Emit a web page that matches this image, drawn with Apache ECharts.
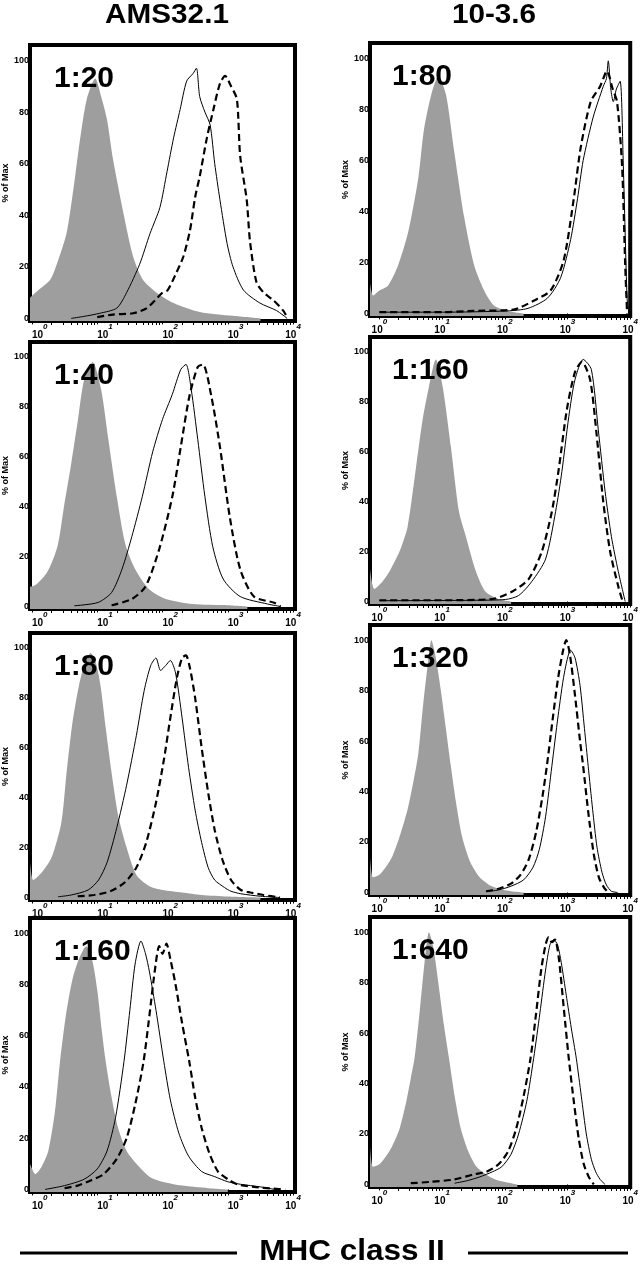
<!DOCTYPE html>
<html><head><meta charset="utf-8">
<script src="https://cdn.jsdelivr.net/npm/echarts@6/dist/echarts.min.js"></script>
<style>html,body{margin:0;padding:0;background:#fff}#c{width:641px;height:1279px}</style>
</head><body><div id="c"></div>
<script>
// ---------- DATA (x = log10 fluorescence, y = % of Max) ----------
const COLUMN_TITLES = ['AMS32.1', '10-3.6'];
const DILUTIONS_LEFT = ['1:20', '1:40', '1:80', '1:160'];
const DILUTIONS_RIGHT = ['1:80', '1:160', '1:320', '1:640'];
const X_TICKS = [0, 1, 2, 3, 4];
const Y_TICKS = [0, 20, 40, 60, 80, 100];
const X_LABEL_BASE = '10';
const X_AXIS_TITLE = 'MHC class II';
const Y_AXIS_TITLE = '% of Max';

// Left column (AMS32.1)
const L1_ctrl = [[-0.03,8],[0.1,11],[0.28,15],[0.38,21],[0.53,33],[0.64,51],[0.74,70],[0.84,85],[0.97,93],[1.06,86],[1.15,77],[1.24,62],[1.4,41],[1.55,24],[1.7,15],[1.91,10],[2.17,6],[2.57,2.5],[3.08,1],[3.5,0]];
const L1_solid = [[0.6,0],[0.8,0.8],[1.04,2],[1.3,4],[1.45,10],[1.65,21],[1.81,33],[1.96,43],[2.07,57],[2.17,70],[2.27,81],[2.37,92],[2.47,95],[2.52,97],[2.57,86],[2.65,80],[2.73,75],[2.8,60],[2.88,46],[2.99,29],[3.08,20],[3.24,11],[3.49,6],[3.75,3],[3.91,0]];
const L1_dash = [[1.0,0.5],[1.24,1.5],[1.55,2],[1.76,4],[2.0,10],[2.08,11],[2.2,17],[2.32,24],[2.42,34],[2.5,47],[2.57,55],[2.68,70],[2.78,81],[2.88,91],[2.96,94],[3.05,90],[3.14,85],[3.19,63],[3.29,46],[3.34,30],[3.44,14],[3.55,10],[3.7,7],[3.85,3],[3.92,0]];

const L2_ctrl = [[-0.03,8],[0.0,8],[0.23,13.6],[0.39,24],[0.49,40],[0.6,57],[0.7,74],[0.8,91],[0.93,98],[1.06,87],[1.17,67],[1.3,44],[1.43,25],[1.58,15],[1.79,7],[2.05,3],[2.46,1],[3.0,0.5],[3.3,0]];
const L2_solid = [[0.65,0.3],[1.01,1.6],[1.22,5.6],[1.38,15],[1.53,28],[1.69,44],[1.85,62],[2.0,75],[2.15,85],[2.28,95],[2.36,97],[2.44,87],[2.54,67],[2.65,44],[2.77,24],[2.93,11],[3.19,4],[3.61,1],[3.81,0]];
const L2_dash = [[1.22,0.5],[1.53,3],[1.74,8],[1.95,23],[2.15,44],[2.28,64],[2.41,84],[2.54,96],[2.62,97],[2.75,84],[2.88,64],[3.03,36],[3.19,15],[3.4,4],[3.71,1.5],[3.81,0]];

const L3_ctrl = [[-0.03,14],[0.02,7],[0.15,10],[0.3,16],[0.45,30],[0.53,50],[0.62,70],[0.72,85],[0.8,93],[0.9,98],[0.98,94],[1.05,85],[1.13,68],[1.22,50],[1.32,33],[1.45,20],[1.6,9],[1.8,4.5],[2.0,3],[2.3,2],[2.6,1],[3.0,0.4],[3.5,0]];
const L3_solid = [[0.4,0.3],[0.6,1],[0.86,3],[1.02,7],[1.15,14],[1.3,28],[1.45,45],[1.6,65],[1.72,83],[1.82,93],[1.9,96],[1.97,91],[2.05,93],[2.12,95],[2.2,90],[2.3,72],[2.4,52],[2.5,35],[2.6,22],[2.7,12],[2.8,7],[2.95,4],[3.05,2.5],[3.2,1.5],[3.5,0.5],[3.8,0]];
const L3_dash = [[0.7,0.5],[0.95,1],[1.2,2.5],[1.42,6],[1.6,12],[1.75,22],[1.9,38],[2.02,55],[2.12,72],[2.22,88],[2.3,96],[2.36,97],[2.42,92],[2.5,80],[2.6,60],[2.7,42],[2.8,27],[2.92,15],[3.05,7],[3.2,3],[3.35,2],[3.55,1],[3.8,0]];

const L4_ctrl = [[-0.03,10],[0.05,6],[0.15,9],[0.25,15],[0.35,30],[0.43,50],[0.52,68],[0.62,82],[0.72,90],[0.83,95],[0.92,90],[1.0,78],[1.07,62],[1.13,50],[1.22,36],[1.32,24],[1.45,15],[1.6,10],[1.8,5],[2.0,3],[2.3,1.5],[2.7,0.5],[3.0,0]];
const L4_solid = [[0.2,0],[0.5,1.5],[0.8,4],[1.0,8],[1.15,15],[1.28,28],[1.41,50],[1.5,70],[1.58,88],[1.67,97],[1.74,92],[1.8,85],[1.9,70],[2.02,50],[2.12,35],[2.25,22],[2.4,13],[2.6,7],[2.8,5],[3.0,3],[3.2,2],[3.5,1],[3.72,0]];
const L4_dash = [[0.5,0.5],[0.7,1.5],[0.9,3.5],[1.1,6],[1.3,12],[1.45,20],[1.58,33],[1.71,50],[1.8,68],[1.88,85],[1.95,95],[2.0,92],[2.06,96],[2.12,90],[2.2,80],[2.3,65],[2.41,50],[2.5,36],[2.6,24],[2.72,14],[2.85,7],[3.0,4],[3.15,2],[3.4,1],[3.7,0.3],[3.88,0]];

// Right column (10-3.6)
const R1_ctrl = [[-0.15,12],[-0.1,7],[0.0,9],[0.14,11],[0.3,19],[0.46,32],[0.62,53],[0.71,72],[0.83,86],[0.94,93],[1.06,86],[1.19,64],[1.35,38],[1.51,19],[1.67,9],[1.83,3],[2.04,1],[2.3,0]];
const R1_solid = [[0.0,0.5],[1.0,0.5],[2.04,1],[2.37,2],[2.68,6],[2.89,14],[3.05,29],[3.16,45],[3.25,60],[3.41,77],[3.57,89],[3.62,92],[3.65,99],[3.69,88],[3.73,83],[3.78,88],[3.84,91],[3.89,58],[3.95,6],[3.98,0]];
const R1_dash = [[0.0,0.5],[1.0,0.5],[1.5,1],[2.14,1.5],[2.46,5],[2.73,9],[2.94,21],[3.1,45],[3.21,65],[3.37,83],[3.52,89],[3.63,95],[3.72,88],[3.79,83],[3.87,58],[3.92,19],[3.95,0]];

const R2_ctrl = [[-0.15,13],[-0.08,5],[0.05,8],[0.16,12],[0.32,20],[0.45,30],[0.58,53],[0.69,73],[0.79,86],[0.9,97],[1.01,86],[1.14,62],[1.27,36],[1.38,26],[1.54,12],[1.69,4],[1.9,1],[2.1,0]];
const R2_solid = [[0.0,0.3],[1.5,0.5],[2.01,0.8],[2.22,2.4],[2.43,8],[2.65,17],[2.81,36],[2.91,52],[3.02,74],[3.12,89],[3.25,97],[3.38,93],[3.49,69],[3.6,44],[3.7,26],[3.81,12],[3.92,0]];
const R2_dash = [[0.0,0.5],[1.0,0.5],[1.8,1],[2.12,4],[2.38,9],[2.59,20],[2.75,36],[2.86,53],[2.99,77],[3.12,92],[3.23,96],[3.36,89],[3.46,68],[3.57,40],[3.68,20],[3.81,6],[3.88,0]];

const R3_ctrl = [[-0.15,14],[-0.1,6],[0.0,7],[0.1,10],[0.2,14],[0.32,22],[0.45,33],[0.55,45],[0.62,55],[0.7,75],[0.77,90],[0.83,100],[0.9,93],[0.98,80],[1.06,65],[1.14,50],[1.22,36],[1.32,22],[1.45,12],[1.6,6],[1.75,3],[1.9,1.5],[2.1,0.5],[2.3,0]];
const R3_solid = [[1.7,0.3],[1.9,1],[2.1,2.5],[2.3,5],[2.45,10],[2.55,17],[2.65,30],[2.75,50],[2.85,70],[2.95,87],[3.05,96],[3.12,93],[3.2,82],[3.27,65],[3.33,50],[3.4,33],[3.47,18],[3.55,8],[3.62,3],[3.7,0.5],[3.8,0]];
const R3_dash = [[1.7,0.5],[1.9,1.5],[2.1,3.5],[2.25,7],[2.38,13],[2.5,24],[2.6,38],[2.67,50],[2.76,68],[2.85,85],[2.93,96],[2.98,100],[3.04,94],[3.12,78],[3.2,60],[3.25,50],[3.33,32],[3.42,15],[3.5,6],[3.58,2],[3.65,0]];

const R4_ctrl = [[-0.15,15],[-0.1,7],[0.0,8],[0.1,11],[0.2,15],[0.32,22],[0.43,33],[0.5,42],[0.56,50],[0.64,68],[0.72,88],[0.79,100],[0.86,94],[0.95,78],[1.03,63],[1.11,50],[1.2,35],[1.3,22],[1.42,13],[1.55,7],[1.7,4],[1.85,2],[2.0,1],[2.2,0]];
const R4_solid = [[1.2,0.5],[1.4,1.5],[1.6,3],[1.8,5],[1.95,7],[2.1,12],[2.22,20],[2.35,33],[2.46,50],[2.56,68],[2.65,85],[2.72,95],[2.78,97],[2.84,95],[2.9,88],[2.98,75],[3.06,62],[3.14,50],[3.22,35],[3.3,20],[3.38,10],[3.45,5],[3.52,2],[3.6,0]];
const R4_dash = [[0.5,0.5],[0.8,1],[1.2,2],[1.5,4],[1.7,5],[1.9,8],[2.05,13],[2.18,22],[2.3,35],[2.41,50],[2.5,68],[2.58,85],[2.65,95],[2.7,98],[2.75,96],[2.8,97],[2.86,90],[2.94,70],[3.02,50],[3.1,33],[3.18,18],[3.26,8],[3.34,3],[3.42,0]];

// ---------- LAYOUT ----------
const FONT = '"Liberation Sans", Arial, sans-serif';
const LEFT_COL = {left: 30, width: 265, xmin: -0.03, xmax: 4.03, tops: [45, 342, 633, 918], heights: [276, 267, 267, 274], labelX: 54, align: 'left'};
const RIGHT_COL = {left: 370, width: 262, xmin: -0.15, xmax: 4.0, tops: [43, 337, 625, 917], heights: [273, 267, 270, 270], labelX: 392, align: 'center'};

const panels = [
  {col: LEFT_COL, row: 0, label: DILUTIONS_LEFT[0], ctrl: L1_ctrl, solid: L1_solid, dash: L1_dash},
  {col: LEFT_COL, row: 1, label: DILUTIONS_LEFT[1], ctrl: L2_ctrl, solid: L2_solid, dash: L2_dash},
  {col: LEFT_COL, row: 2, label: DILUTIONS_LEFT[2], ctrl: L3_ctrl, solid: L3_solid, dash: L3_dash},
  {col: LEFT_COL, row: 3, label: DILUTIONS_LEFT[3], ctrl: L4_ctrl, solid: L4_solid, dash: L4_dash},
  {col: RIGHT_COL, row: 0, label: DILUTIONS_RIGHT[0], ctrl: R1_ctrl, solid: R1_solid, dash: R1_dash},
  {col: RIGHT_COL, row: 1, label: DILUTIONS_RIGHT[1], ctrl: R2_ctrl, solid: R2_solid, dash: R2_dash},
  {col: RIGHT_COL, row: 2, label: DILUTIONS_RIGHT[2], ctrl: R3_ctrl, solid: R3_solid, dash: R3_dash},
  {col: RIGHT_COL, row: 3, label: DILUTIONS_RIGHT[3], ctrl: R4_ctrl, solid: R4_solid, dash: R4_dash}
];

// log minor tick positions (2..9 within each decade)
const X_MINOR = [];
for (let d = 0; d < 4; d++) for (let m = 2; m <= 9; m++) X_MINOR.push(d + Math.log10(m));

const grid = [], xAxis = [], yAxis = [], series = [], graphic = [];
panels.forEach((p, i) => {
  const c = p.col;
  const top = c.tops[p.row], h = c.heights[p.row];
  grid.push({left: c.left, top: top, width: c.width, height: h, show: true, borderColor: '#000', borderWidth: 4, backgroundColor: 'transparent'});
  xAxis.push({
    gridIndex: i, type: 'value', min: c.xmin, max: c.xmax, position: 'bottom',
    axisLine: {show: false}, splitLine: {show: false},
    axisTick: {show: true, customValues: X_TICKS, length: 6, lineStyle: {color: '#000', width: 1}},
    axisLabel: {
      customValues: X_TICKS, margin: 2, align: c.align, alignMaxLabel: 'center',
      formatter: v => '{b|' + X_LABEL_BASE + '}{s|' + Math.round(v) + '}',
      rich: {
        b: {fontSize: 10, fontWeight: 'bold', fontFamily: FONT, color: '#000', padding: [7, 0, 0, 0]},
        s: {fontSize: 8, fontWeight: 'bold', fontStyle: 'italic', fontFamily: FONT, color: '#000', verticalAlign: 'top'}
      }
    }
  });
  xAxis.push({
    gridIndex: i, type: 'value', min: c.xmin, max: c.xmax, position: 'bottom', offset: 0,
    axisLine: {show: false}, splitLine: {show: false}, axisLabel: {show: false},
    axisTick: {show: true, customValues: X_MINOR, length: 4, lineStyle: {color: '#000', width: 1}}
  });
  yAxis.push({
    gridIndex: i, type: 'value', min: -1, max: 106,
    axisLine: {show: false}, splitLine: {show: false}, axisTick: {show: false},
    axisLabel: {customValues: Y_TICKS, margin: 1, fontSize: 9, fontWeight: 'bold', fontFamily: FONT, color: '#000'},
    name: Y_AXIS_TITLE, nameLocation: 'middle', nameGap: 18, nameRotate: 90,
    nameTextStyle: {fontSize: 9, fontWeight: 'bold', fontFamily: FONT, color: '#000'}
  });
  series.push({type: 'line', xAxisIndex: 2 * i, yAxisIndex: i, data: p.ctrl, symbol: 'none', smooth: 0.25,
    lineStyle: {width: 0}, areaStyle: {color: '#9e9e9e', opacity: 1, origin: 'start'}, z: 1, silent: true});
  series.push({type: 'line', xAxisIndex: 2 * i, yAxisIndex: i, data: p.solid, symbol: 'none', smooth: 0.25,
    lineStyle: {color: '#000', width: 1}, z: 3, silent: true});
  series.push({type: 'line', xAxisIndex: 2 * i, yAxisIndex: i, data: p.dash, symbol: 'none', smooth: 0.25,
    lineStyle: {color: '#000', width: 2.2, type: [7, 4]}, z: 4, silent: true});
  graphic.push({type: 'text', x: c.labelX, y: top + 34, z: 10,
    style: {text: p.label, fill: '#000', font: 'bold 30px ' + FONT, textAlign: 'left', textVerticalAlign: 'middle'}});
});

graphic.push({type: 'text', x: 167, y: 16, scaleX: 1.1, z: 10,
  style: {text: COLUMN_TITLES[0], fill: '#000', font: 'bold 27px ' + FONT, textAlign: 'center', textVerticalAlign: 'middle'}});
graphic.push({type: 'text', x: 494, y: 16, scaleX: 1.1, z: 10,
  style: {text: COLUMN_TITLES[1], fill: '#000', font: 'bold 27px ' + FONT, textAlign: 'center', textVerticalAlign: 'middle'}});
graphic.push({type: 'text', x: 352, y: 1252, scaleX: 1.05, z: 10,
  style: {text: X_AXIS_TITLE, fill: '#000', font: 'bold 30px ' + FONT, textAlign: 'center', textVerticalAlign: 'middle'}});
graphic.push({type: 'line', z: 10, shape: {x1: 20, y1: 1253, x2: 237, y2: 1253}, style: {stroke: '#000', lineWidth: 3}});
graphic.push({type: 'line', z: 10, shape: {x1: 468, y1: 1253, x2: 628, y2: 1253}, style: {stroke: '#000', lineWidth: 3}});

const chart = echarts.init(document.getElementById('c'), null, {renderer: 'canvas'});
chart.setOption({animation: false, backgroundColor: '#fff', grid, xAxis, yAxis, series, graphic});
</script></body></html>
